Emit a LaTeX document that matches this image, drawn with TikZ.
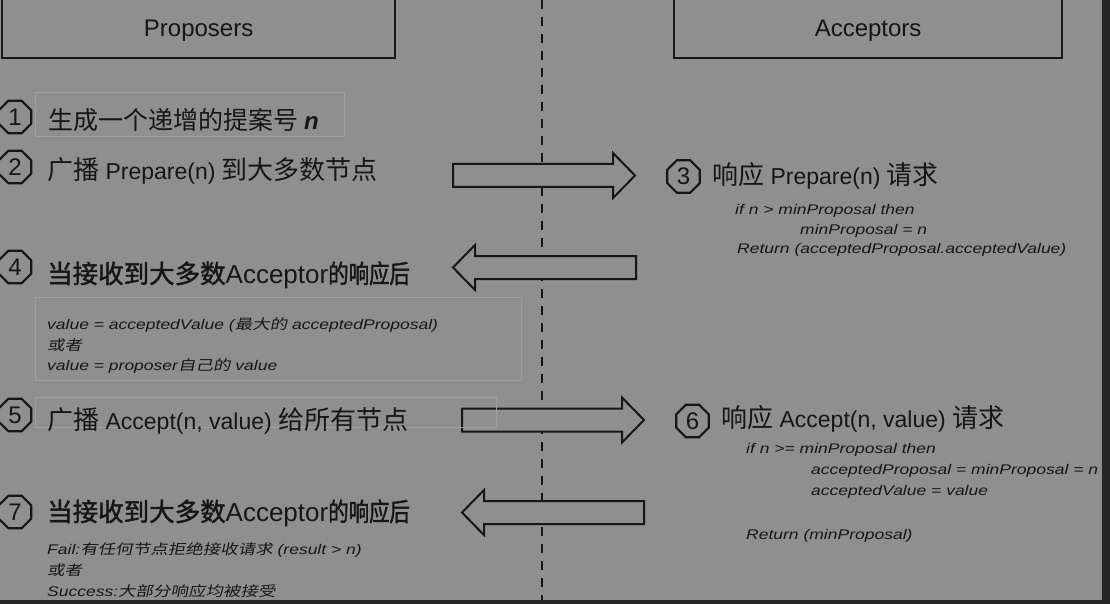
\documentclass[tikz,border=0pt]{standalone}
\usepackage{fontspec}
\setmainfont{Liberation Sans}
\newfontfamily\zhfont{Noto Sans CJK SC}
\newfontfamily\zhheavy[FakeBold=1.6]{Noto Sans CJK SC}
\newfontfamily\zhnarrow[FakeBold=1.6,FakeStretch=0.8]{Noto Sans CJK SC}
\newfontfamily\zhslant[FakeSlant=0.2,FakeStretch=1.25]{Noto Sans CJK SC}
\newfontfamily\codefont[FakeStretch=1.25]{Liberation Sans}
\usetikzlibrary{shapes.geometric}
\definecolor{pxgris}{HTML}{8F8F8F}
\definecolor{pxbord}{HTML}{262626}
\definecolor{pxencre}{HTML}{161616}
\definecolor{pxclair}{HTML}{9F9F9F}

\newcommand{\fsz}[1]{\fontsize{#1}{#1}\selectfont}
\newcommand{\zh}[1]{{\zhfont\fsz{26}#1}}
\newcommand{\zhb}[1]{{\zhheavy\fsz{25.5}#1}}
\newcommand{\zhn}[1]{{\zhnarrow\fsz{25.5}#1}}
\newcommand{\zhc}[1]{{\zhslant\fsz{14}#1}}
% hollow block arrow: tail, tip, side of the head base (-1 right, 1 left)
\newcommand{\blockarrow}[3]{%
  \draw[blockarr] ([yshift=11.5pt]#1) -- ([xshift={#3*22pt},yshift=11.5pt]#2)
    -- ([xshift={#3*22pt},yshift=22.5pt]#2) -- (#2)
    -- ([xshift={#3*22pt},yshift=-22.5pt]#2) -- ([xshift={#3*22pt},yshift=-11.5pt]#2)
    -- ([yshift=-11.5pt]#1) -- cycle;}

\begin{document}
\begin{tikzpicture}[x=1pt,y=-1pt,
  hdrbox/.style={draw=pxencre,line width=2.2pt,inner sep=0pt},
  hdrtext/.style={font=\fsz{24},text=pxencre,inner sep=0pt},
  lightbox/.style={draw=pxclair,line width=1pt},
  numoct/.style={regular polygon,regular polygon sides=8,draw=pxencre,line width=2.2pt,
    minimum size=35pt,inner sep=0pt,font=\fsz{24},text=pxencre},
  steptext/.style={anchor=west,inner sep=0pt,font=\fsz{23},text=pxencre},
  codeline/.style={anchor=base west,inner sep=0pt,font=\codefont\itshape\fsz{14},text=pxencre},
  lifeline/.style={draw=pxencre,line width=2.4pt,dash pattern=on 9pt off 8pt},
  blockarr/.style={draw=pxencre,fill=pxgris,line width=2pt,line join=miter}]
  \useasboundingbox (0,0) rectangle (1110,604);
  \fill[pxbord] (0,0) rectangle (1110,604);
  \fill[pxgris] (0,0) rectangle (1102,600);

  % the two parties
  \node[hdrbox,anchor=south west,minimum width=393pt,minimum height=100pt] (propbox) at (1,59) {};
  \node[hdrtext] (prop) at ([yshift=28pt]propbox.south) {Proposers};
  \node[hdrbox,anchor=south west,minimum width=388pt,minimum height=100pt] (accbox) at (673,59) {};
  \node[hdrtext] (acc) at ([yshift=28pt]accbox.south) {Acceptors};

  \coordinate (lltop) at (542,0);
  \coordinate (llbot) at (542,600);
  \draw[lifeline] (lltop) -- (llbot);

  % messages
  \coordinate (a2s) at (453,175.5); \coordinate (a2e) at (635,175.5);
  \coordinate (a4s) at (636,267.5); \coordinate (a4e) at (453,267.5);
  \coordinate (a5s) at (462,420);   \coordinate (a5e) at (644,420);
  \coordinate (a7s) at (644,512.5); \coordinate (a7e) at (462,512.5);
  \blockarrow{a2s}{a2e}{-1}
  \blockarrow{a4s}{a4e}{1}
  \blockarrow{a5s}{a5e}{-1}
  \blockarrow{a7s}{a7e}{1}

  \draw[lightbox] (35,93) rectangle (344,137);
  \draw[lightbox] (35,297) rectangle (521,380);
  \draw[lightbox] (35,397) rectangle (496,427);

  \node[numoct] (n1) at (15,117) {1};
  \node[numoct] (n2) at (15,167) {2};
  \node[numoct] (n3) at (683.5,176.5) {3};
  \node[numoct] (n4) at (15,267) {4};
  \node[numoct] (n5) at (15,415) {5};
  \node[numoct] (n6) at (692.5,421) {6};
  \node[numoct] (n7) at (15,512) {7};

  \node[steptext] (s1) at (48,120) {\zhfont\fsz{25}生成一个递增的提案号\hspace{6pt}{\normalfont\fsz{24}\bfseries\itshape n}};
  \node[steptext] (s2) at (47,171) {\zh{广播} Prepare(n) \zh{到大多数节点}};
  \node[steptext] (s3) at (712,176) {\zh{响应} Prepare(n) \zh{请求}};
  \node[steptext] (s4) at (47,275) {\zhb{当接收到大多数}{\fsz{26}Acceptor}\zhn{的响应后}};
  \node[steptext] (s5) at (47,421) {\zh{广播} Accept(n, value) \zh{给所有节点}};
  \node[steptext] (s6) at (721,419) {\zh{响应} Accept(n, value) \zh{请求}};
  \node[steptext] (s7) at (47,513) {\zhb{当接收到大多数}{\fsz{26}Acceptor}\zhn{的响应后}};

  % pseudo code
  \node[codeline] (c3a) at (735,214) {if n > minProposal then};
  \node[codeline] (c3b) at (800,234) {minProposal = n};
  \node[codeline] (c3c) at (737,253) {Return (acceptedProposal.acceptedValue)};

  \node[codeline] (c4a) at (47,329) {value = acceptedValue (\zhc{最大的} acceptedProposal)};
  \node[codeline] (c4b) at (47,350) {\zhc{或者}};
  \node[codeline] (c4c) at (47,370) {value = proposer\zhc{自己的} value};

  \node[codeline] (c6a) at (746,453) {if n >= minProposal then};
  \node[codeline] (c6b) at (811,474) {acceptedProposal = minProposal = n};
  \node[codeline] (c6c) at (811,495) {acceptedValue = value};
  \node[codeline] (c6d) at (746,539) {Return (minProposal)};

  \node[codeline] (c7a) at (47,554) {Fail:\zhc{有任何节点拒绝接收请求} (result > n)};
  \node[codeline] (c7b) at (47,575) {\zhc{或者}};
  \node[codeline] (c7c) at (47,596) {Success:\zhc{大部分响应均被接受}};
\end{tikzpicture}
\end{document}
